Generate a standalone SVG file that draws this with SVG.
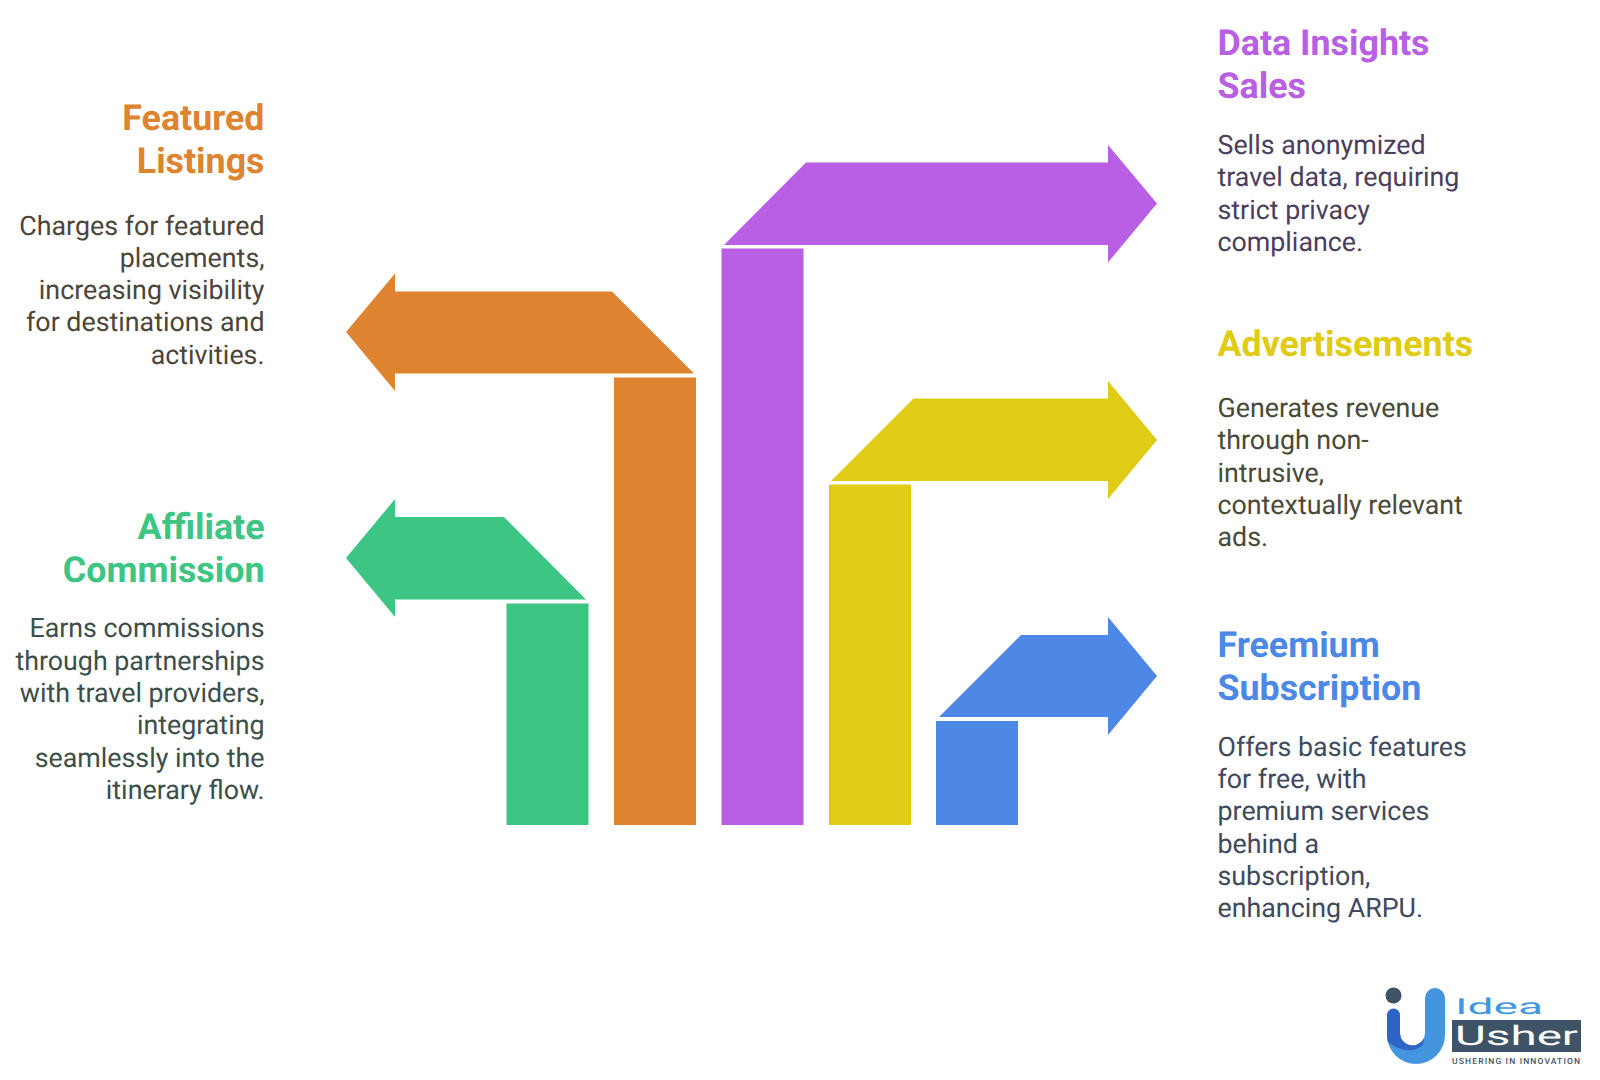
<svg xmlns="http://www.w3.org/2000/svg" width="1600" height="1080" viewBox="0 0 1600 1080">
<style>
text{font-family:Roboto,"Liberation Sans",sans-serif;text-rendering:geometricPrecision}
.h{font-size:35.8px;font-weight:700}
.b{font-size:26.8px;font-weight:400}
.e{text-anchor:end}
.green{fill:#3cc583}.orange{fill:#de8431}.purple{fill:#b85fe4}.yellow{fill:#e0cb15}.blue{fill:#4e88e6}
</style>
<rect width="1600" height="1080" fill="#fff"/>
<g id="connectors"></g>
<g id="node-affiliate">
<rect class="green" x="506.500" y="603.500" width="82" height="221.500"/>
<polygon class="green" points="586,599.500 504,517 395,517 395,499 346,558 395,617 395,599.500"/>
<text class="h e green" x="264.500" y="538.500">Affiliate</text>
<text class="h e green" x="264.500" y="581.500">Commission</text>
<text class="b e" fill="#3c4f49"><tspan x="264.500" y="637">Earns commissions</tspan><tspan x="264.500" y="669.500">through partnerships</tspan><tspan x="264.500" y="701.500">with travel providers,</tspan><tspan x="264.500" y="734">integrating</tspan><tspan x="264.500" y="766.500">seamlessly into the</tspan><tspan x="264.500" y="798.500">itinerary flow.</tspan></text>
</g>
<g id="node-featured">
<rect class="orange" x="614" y="377.500" width="82" height="447.500"/>
<polygon class="orange" points="694,373.500 612,291.500 395,291.500 395,273.500 346,332 395,391 395,373.500"/>
<text class="h e orange" x="264.500" y="129.500">Featured</text>
<text class="h e orange" x="264.500" y="172.500">Listings</text>
<text class="b e" fill="#4d4539"><tspan x="264.500" y="234.500">Charges for featured</tspan><tspan x="264.500" y="266.500">placements,</tspan><tspan x="264.500" y="299">increasing visibility</tspan><tspan x="264.500" y="331">for destinations and</tspan><tspan x="264.500" y="363.500">activities.</tspan></text>
</g>
<g id="node-data">
<rect class="purple" x="721.500" y="248.500" width="82" height="576.500"/>
<polygon class="purple" points="724,245 806,162.500 1108,162.500 1108,145 1157,203.500 1108,262.500 1108,245"/>
<text class="h purple" x="1217.500" y="54.500">Data Insights</text>
<text class="h purple" x="1217.500" y="97.500">Sales</text>
<text class="b" fill="#4d3d5c"><tspan x="1217.500" y="153.500">Sells anonymized</tspan><tspan x="1217.500" y="186">travel data, requiring</tspan><tspan x="1217.500" y="218.500">strict privacy</tspan><tspan x="1217.500" y="250.500">compliance.</tspan></text>
</g>
<g id="node-ads">
<rect class="yellow" x="829" y="484.500" width="82" height="340.500"/>
<polygon class="yellow" points="831,481 913.500,398.500 1108,398.500 1108,381 1157,440 1108,499 1108,481"/>
<text class="h yellow" x="1217.500" y="355.500">Advertisements</text>
<text class="b" fill="#4a4a38"><tspan x="1217.500" y="417">Generates revenue</tspan><tspan x="1217.500" y="449">through non-</tspan><tspan x="1217.500" y="481.500">intrusive,</tspan><tspan x="1217.500" y="513.500">contextually relevant</tspan><tspan x="1217.500" y="546">ads.</tspan></text>
</g>
<g id="node-freemium">
<rect class="blue" x="936" y="721" width="82" height="104"/>
<polygon class="blue" points="939,717 1021,635 1108,635 1108,617 1157,676 1108,735 1108,717"/>
<text class="h blue" x="1217.500" y="656.500">Freemium</text>
<text class="h blue" x="1217.500" y="699.500">Subscription</text>
<text class="b" fill="#3f4a5c"><tspan x="1217.500" y="755.500">Offers basic features</tspan><tspan x="1217.500" y="788">for free, with</tspan><tspan x="1217.500" y="820">premium services</tspan><tspan x="1217.500" y="852.500">behind a</tspan><tspan x="1217.500" y="884.500">subscription,</tspan><tspan x="1217.500" y="917">enhancing ARPU.</tspan></text>
</g>
<g id="logo">
<circle cx="1393.500" cy="995.500" r="8" fill="#3f5366"/>
<path d="M1425 998a10 10 0 0 1 20 0V1035A29 29 0 0 1 1387 1035V1030H1400V1033A12.500 12.500 0 0 0 1425 1033Z" fill="#4495de"/>
<path d="M1387 1015a6.500 6.500 0 0 1 13 0V1033A12.500 12.500 0 0 0 1425 1033L1423 1045Q1408 1057 1388 1042Q1387 1038 1387 1035Z" fill="#2f64c6"/>
<text x="1455" y="1014" font-size="22" font-weight="400" fill="#3f97e0" textLength="88" lengthAdjust="spacingAndGlyphs">Idea</text>
<rect x="1452" y="1020" width="129" height="32" fill="#3f5366"/>
<text x="1455" y="1045" font-size="27" font-weight="400" fill="#fff" textLength="123" lengthAdjust="spacingAndGlyphs">Usher</text>
<text x="1452" y="1063.500" font-size="8.500" font-weight="500" fill="#3f5366" textLength="128">USHERING IN INNOVATION</text>
</g>
</svg>
